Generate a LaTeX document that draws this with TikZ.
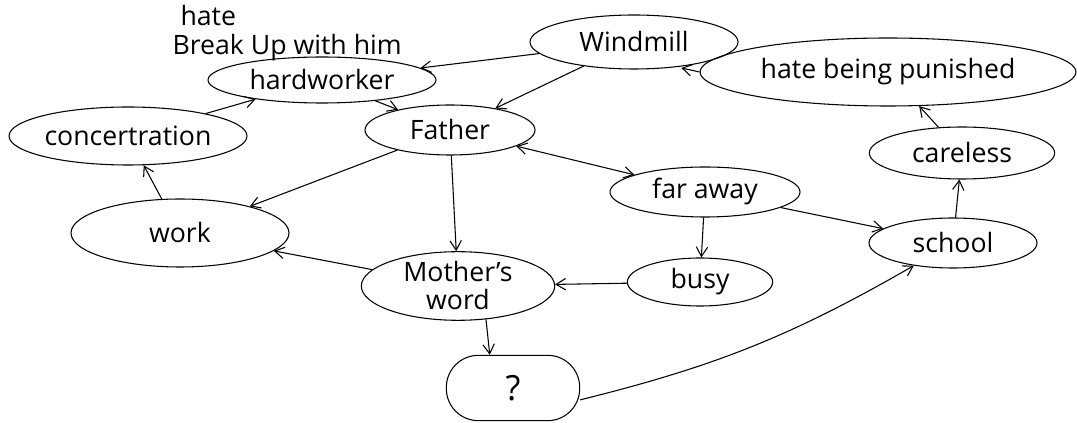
\documentclass[tikz,border=0pt]{standalone}
\usepackage{fontspec}
\setmainfont{Open Sans}
\usepackage{tikz}
\usetikzlibrary{positioning,shapes,arrows.meta}
\tikzstyle{bub}=[%
      ellipse, draw=black, thick, fill=none,
      inner sep=0pt, align=center, font=\fontsize{20}{21}\selectfont
]
\tikzstyle{blob}=[%
      rectangle, rounded corners=24pt, draw=black, thick, fill=none,
      inner sep=0pt, font=\fontsize{26}{28}\selectfont
]
\tikzstyle{note}=[%
      inner sep=0pt, anchor=west, font=\fontsize{20}{21}\selectfont
]

\begin{document}
\begin{tikzpicture}[x=0.75pt, y=-0.75pt,
    -{Straight Barb[length=2.5mm,width=3mm]}, thick
  ]
    \useasboundingbox (0,0) rectangle (1077,423);

    \node[note] (hate1) at (180,16) {hate};
    \node[note] (brk) at (172,48) {Break Up with him};

    \node[bub, minimum width=156pt, minimum height=40.5pt] (wind) at (634,42) {Windmill};
    \node[bub, minimum width=282pt, minimum height=51pt] (hate) at (888,72) {hate being punished};
    \node[bub, minimum width=171pt, minimum height=34.5pt] (hard) at (322,80) {hardworker};
    \node[bub, minimum width=127.5pt, minimum height=37.5pt] (fath) at (450,130) {Father};
    \node[bub, minimum width=178.5pt, minimum height=43.5pt] (conc) at (128,136) {concertration};
    \node[bub, minimum width=139pt, minimum height=39pt] (care) at (962,153) {careless};
    \node[bub, minimum width=142.5pt, minimum height=37.5pt] (far) at (705,192) {far away};
    \node[bub, minimum width=163.5pt, minimum height=51pt] (work) at (180,233) {work};
    \node[bub, minimum width=126pt, minimum height=37.5pt] (scho) at (953,243) {school};
    \node[bub, minimum width=145pt, minimum height=51pt] (moth) at (458,286) {Mother's\\word};
    \node[bub, minimum width=109pt, minimum height=36pt] (busy) at (700,282) {busy};
    \node[blob, minimum width=100pt, minimum height=49pt] (ques) at (513,388) {?};

    \draw (wind) -- (hard);
    \draw (wind) -- (fath);
    \draw[shorten >=3pt] (hate.west) -- (wind.-30);
    \draw (care) -- (hate);
    \draw (conc) -- (hard);
    \draw (hard) -- (fath);
    \draw (fath) -- (work);
    \draw (fath) -- (moth);
    \draw[{Straight Barb[length=2.5mm,width=3mm]}-{Straight Barb[length=2.5mm,width=3mm]}] (fath) -- (far);
    \draw (far) -- (busy);
    \draw (far) -- (scho);
    \draw (busy) -- (moth);
    \draw (moth) -- (work);
    \draw (moth.-50) -- (ques.125);
    \draw (work) -- (conc);
    \draw (scho) -- (care);
    \draw (ques.-10) to[bend right=8] (scho.-150);

  \end{tikzpicture}
\end{document}
